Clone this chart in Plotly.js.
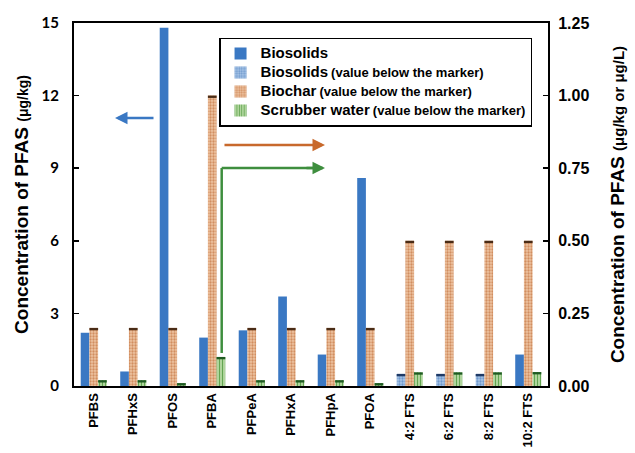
<!DOCTYPE html>
<html>
<head>
<meta charset="utf-8">
<script src="https://cdn.plot.ly/plotly-3.0.1.min.js"></script>
<style>html,body{margin:0;padding:0;background:#fff;}#chart{width:635px;height:453px;}</style>
</head>
<body>
<div id="chart"></div>
<script>
// ---- data ----
const categories = ["PFBS","PFHxS","PFOS","PFBA","PFPeA","PFHxA","PFHpA","PFOA","4:2 FTS","6:2 FTS","8:2 FTS","10:2 FTS"];
// Biosolids, µg/kg (left axis)
const biosolids = [2.2, 0.6, 14.8, 2.0, 2.3, 3.7, 1.3, 8.6, null, null, null, 1.3];
// Biosolids, value below the marker (left axis)
const biosolidsBelow = [null, null, null, null, null, null, null, null, 0.5, 0.5, 0.5, null];
// Biochar, value below the marker (right axis)
const biochar = [0.2, 0.2, 0.2, 1.0, 0.2, 0.2, 0.2, 0.2, 0.5, 0.5, 0.5, 0.5];
// Scrubber water, value below the marker (right axis)
const scrubber = [0.02, 0.02, 0.01, 0.1, 0.02, 0.02, 0.02, 0.01, 0.047, 0.047, 0.047, 0.048];

// ---- styling ----
const W = 0.22;
const OFF = {bio: -0.33, char: -0.11, scrub: 0.11};
const capL = 0.1, capR = 0.008;
const F = "Liberation Sans, Arial, sans-serif";

function cap(vals, t, off, color, yaxis) {
  return {
    type: "bar", x: categories,
    y: vals.map(v => v == null ? null : t),
    base: vals.map(v => v == null ? null : v - t),
    width: W, offset: off, yaxis: yaxis,
    marker: {color: color, line: {width: 0}},
    showlegend: false, hoverinfo: "skip"
  };
}
const big = s => "<span style='font-size:15px'><b>" + s + "</b></span>";
const sfx = " <span style='font-size:13px'><b>(value below the marker)</b></span>";

const traces = [
  {type: "bar", name: big("Biosolids"), x: categories, y: biosolids, width: W, offset: OFF.bio,
   marker: {color: "#3A78C3", line: {width: 0}}},
  {type: "bar", name: big("Biosolids") + sfx, x: categories, y: biosolidsBelow, width: W, offset: OFF.bio,
   marker: {color: "#9DBDE3", line: {width: 0}, pattern: {shape: ".", bgcolor: "#A9C6E8", fgcolor: "#6E98CC", size: 3, solidity: 0.45}}},
  {type: "bar", name: big("Biochar") + sfx, x: categories, y: biochar, width: W, offset: OFF.char, yaxis: "y2",
   marker: {color: "#E8B48E", line: {width: 0}, pattern: {shape: ".", bgcolor: "#EEC4A2", fgcolor: "#D18E60", size: 3, solidity: 0.45}}},
  {type: "bar", name: big("Scrubber water") + sfx, x: categories, y: scrubber, width: W, offset: OFF.scrub, yaxis: "y2",
   marker: {color: "#9CCB86", line: {width: 0}, pattern: {shape: "|", bgcolor: "#B8DBA4", fgcolor: "#63A552", size: 3, solidity: 0.4}}},
  cap(biosolidsBelow, capL, OFF.bio, "#1F3A66", "y"),
  cap(biochar, capR, OFF.char, "#4A2C16", "y2"),
  cap(scrubber, capR, OFF.scrub, "#1E5A22", "y2")
];

const layout = {
  width: 635, height: 453,
  margin: {l: 74, r: 87, t: 23, b: 67},
  paper_bgcolor: "#fff", plot_bgcolor: "#fff",
  barmode: "overlay",
  showlegend: true,
  legend: {
    x: 0.306, y: 0.96, xanchor: "left", yanchor: "top",
    bgcolor: "#fff", bordercolor: "#000", borderwidth: 1.5,
    font: {family: F, size: 11, color: "#000"},
    traceorder: "normal", itemwidth: 30, tracegroupgap: 0
  },
  xaxis: {
    type: "category", tickangle: -90, showgrid: false, zeroline: false,
    showline: true, linecolor: "#000", linewidth: 2, mirror: true, ticks: "",
    tickfont: {family: F, size: 13, color: "#000", weight: "bold"},
    range: [-0.5, 11.5]
  },
  yaxis: {
    range: [0, 15], dtick: 3, showgrid: false, zeroline: false,
    showline: true, linecolor: "#000", linewidth: 2, ticks: "inside", ticklen: 5, tickwidth: 1.5, tickcolor: "#000",
    ticklabelstandoff: 10,
    tickfont: {family: "Lato, sans-serif", size: 15, color: "#000", weight: "bold"},
    title: {text: "<b>Concentration of PFAS <span style='font-size:14px'>(μg/kg)</span></b>", font: {family: F, size: 19, color: "#000"}, standoff: 8}
  },
  yaxis2: {
    overlaying: "y", side: "right", range: [0, 1.25], dtick: 0.25, tickformat: ".2f",
    showgrid: false, zeroline: false, showline: true, linecolor: "#000", linewidth: 2,
    ticks: "inside", ticklen: 5, tickwidth: 1.5, tickcolor: "#000",
    ticklabelstandoff: 5,
    tickfont: {family: F, size: 16, color: "#000", weight: "bold"},
    title: {text: "<b>Concentration of PFAS <span style='font-size:15px'>(μg/kg or μg/L)</span></b>", font: {family: F, size: 19, color: "#000"}, standoff: 22}
  },
  shapes: [
    {type: "line", xref: "paper", yref: "paper", x0: 0.3116, x1: 0.3116, y0: 0.091, y1: 0.6006,
     line: {color: "#3E8E3E", width: 2.5}},
    {type: "line", xref: "paper", yref: "paper", x0: 0.3116, x1: 0.525, y0: 0.6006, y1: 0.6006,
     line: {color: "#3E8E3E", width: 2.5}}
  ],
  annotations: [
    {xref: "paper", yref: "paper", x: 0.0865, y: 0.738, ax: 40, ay: 0, text: "", showarrow: true,
     arrowhead: 2, arrowsize: 1, arrowwidth: 2.5, arrowcolor: "#3A78C3"},
    {xref: "paper", yref: "paper", x: 0.5295, y: 0.664, ax: -102, ay: 0, text: "", showarrow: true,
     arrowhead: 2, arrowsize: 1, arrowwidth: 2.5, arrowcolor: "#C8692C"},
    {xref: "paper", yref: "paper", x: 0.5295, y: 0.6006, ax: -20, ay: 0, text: "", showarrow: true,
     arrowhead: 2, arrowsize: 1, arrowwidth: 2.5, arrowcolor: "#3E8E3E"}
  ]
};

Plotly.newPlot("chart", traces, layout, {displayModeBar: false, staticPlot: true});
</script>
</body>
</html>
